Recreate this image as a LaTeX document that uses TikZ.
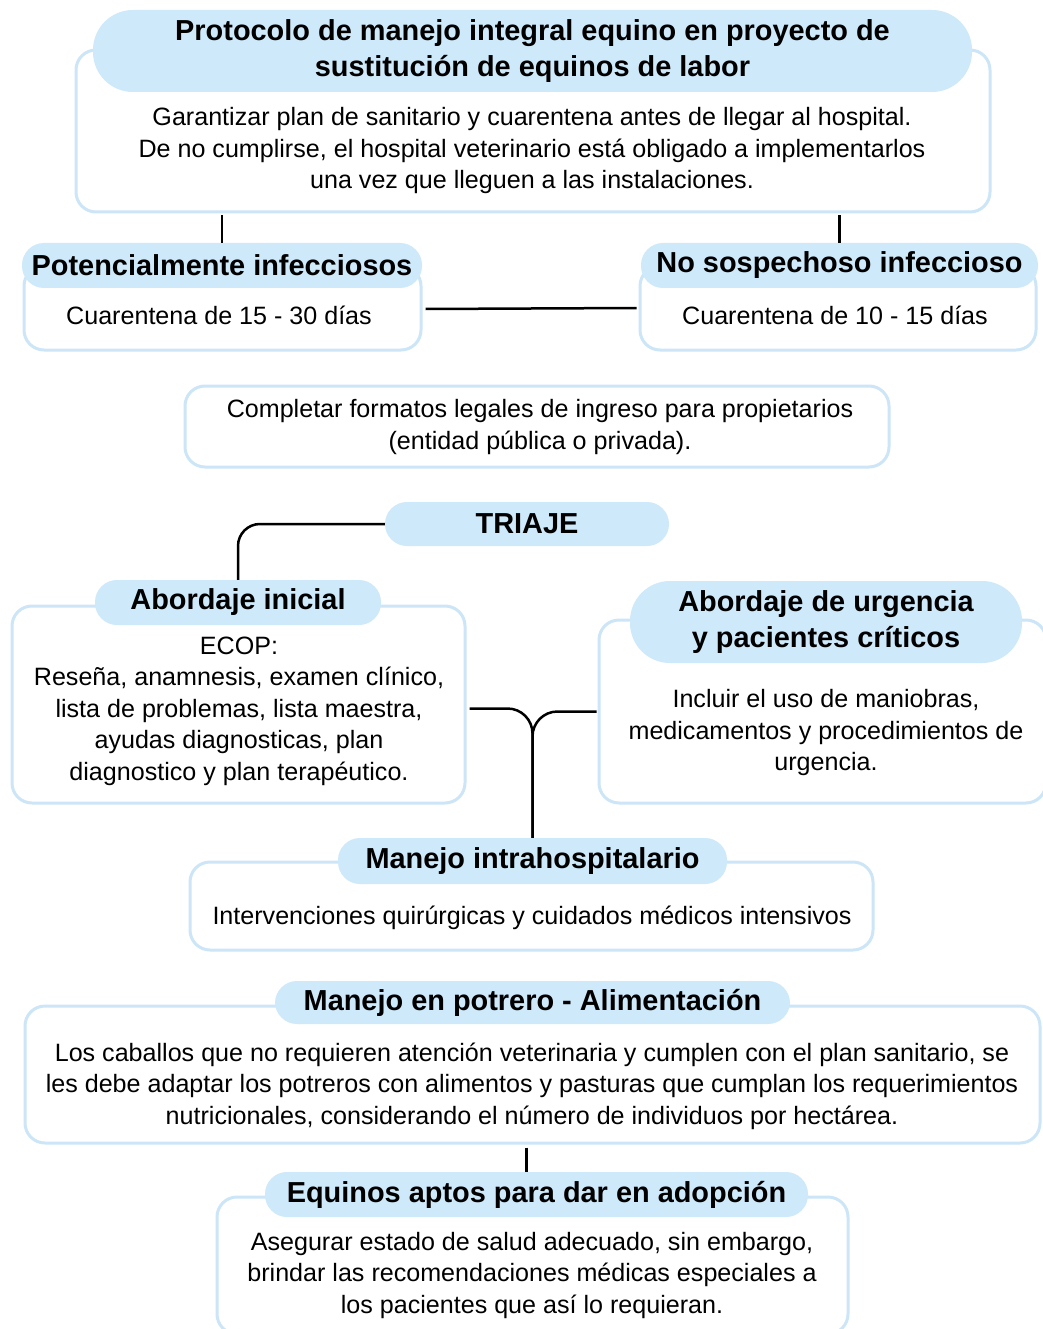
\documentclass[tikz,border=0pt]{standalone}
\usepackage{fontspec}
\setmainfont{Liberation Sans}
\definecolor{pillblue}{RGB}{205,233,250}
\definecolor{edgeblue}{RGB}{204,230,248}
\newcommand\bodyf{\fontsize{25.1}{31.5}\selectfont}
\newcommand\titlef{\fontsize{28.9}{36.5}\selectfont\bfseries}
\tikzset{
  outerbox/.style={draw=edgeblue, line width=3pt, fill=white, rounded corners=20pt, inner sep=0pt},
  pillbox/.style={fill=pillblue, draw=none, rounded corners=22pt, inner sep=0pt, font=\titlef, align=center},
  bodytext/.style={font=\bodyf, align=center, inner sep=0pt, yshift=-2pt},
  link/.style={draw=black, line width=2.5pt}
}
% name, x1, y1, x2, y2
\newcommand\mkbox[5]{\node[outerbox, minimum width={#4-#2}, minimum height={#5-#3}] (#1) at ({(#2+#4)/2},{(#3+#5)/2}) {};}
% options, name, x1, y1, x2, y2, text
\newcommand\mkpill[7][]{\node[pillbox, minimum width={#5-#3}, minimum height={#6-#4}, #1] (#2) at ({(#3+#5)/2},{(#4+#6)/2}) {#7};}
\begin{document}
\begin{tikzpicture}[x=1pt, y=-1pt]
\useasboundingbox (0,0) rectangle (1042,1329);
\fill[white] (0,0) rectangle (1042,1329);

% main
\mkbox{main}{76}{50}{990}{212}
\mkpill[rounded corners=40pt]{mainp}{93}{10}{972}{92}{Protocolo de manejo integral equino en proyecto de\\sustitución de equinos de labor}
\node[bodytext] (maint) at (532,149) {Garantizar plan de sanitario y cuarentena antes de llegar al hospital.\\De no cumplirse, el hospital veterinario está obligado a implementarlos\\una vez que lleguen a las instalaciones.};

% potencialmente
\mkbox{pi}{24}{266}{421}{350}
\mkpill{pip}{22}{243}{422}{288}{Potencialmente infecciosos}
\node[bodytext] (pit) at (219,313) {Cuarentena de 15 - 30 días};

% no sospechoso
\mkbox{ns}{640}{266}{1036}{350}
\mkpill{nsp}{641}{243}{1038}{288}{No sospechoso infeccioso}
\node[bodytext] (nst) at (835,313) {Cuarentena de 10 - 15 días};

% completar
\mkbox{cf}{185}{386}{889}{467}
\node[bodytext] (cft) at (540,425) {Completar formatos legales de ingreso para propietarios\\(entidad pública o privada).};

% triaje
\mkpill[yshift=1pt]{tri}{385}{503}{669}{547}{TRIAJE}

% abordaje inicial
\mkbox{ai}{12}{606}{465}{803}
\mkpill{aip}{95}{580}{381}{625}{Abordaje inicial}
\node[bodytext] (ait) at (239,709) {ECOP:\\Reseña, anamnesis, examen clínico,\\lista de problemas, lista maestra,\\ayudas diagnosticas, plan\\diagnostico y plan terapéutico.};

% abordaje urgencia
\mkbox{au}{599}{620}{1046}{803}
\mkpill[rounded corners=40pt]{aup}{630}{581}{1022}{663}{Abordaje de urgencia\\y pacientes críticos}
\node[bodytext] (aut) at (826,731) {Incluir el uso de maniobras,\\medicamentos y procedimientos de\\urgencia.};

% manejo intrahospitalario
\mkbox{mi}{190}{862}{873}{950}
\mkpill{mip}{338}{838}{727}{884}{Manejo intrahospitalario}
\node[bodytext] (mit) at (532,916) {Intervenciones quirúrgicas y cuidados médicos intensivos};

% manejo en potrero
\mkbox{mp}{25}{1006}{1040}{1143}
\mkpill{mpp}{275}{981}{790}{1024}{Manejo en potrero - Alimentación}
\node[bodytext] (mpt) at (532,1084) {Los caballos que no requieren atención veterinaria y cumplen con el plan sanitario, se\\les debe adaptar los potreros con alimentos y pasturas que cumplan los requerimientos\\nutricionales, considerando el número de individuos por hectárea.};

% equinos aptos
\mkbox{ea}{217}{1197}{848}{1334}
\mkpill{eap}{265}{1172}{808}{1217}{Equinos aptos para dar en adopción}
\node[bodytext] (eat) at (532,1273) {Asegurar estado de salud adecuado, sin embargo,\\brindar las recomendaciones médicas especiales a\\los pacientes que así lo requieran.};

% connectors
\draw[link] ([yshift=-2pt]main.south -| pip.north) -- (pip.north);
\draw[link] ([yshift=-2pt]main.south -| nsp.north) -- (nsp.north);
\draw[link] ([xshift=3pt,yshift=-1pt]pi.east) -- ([xshift=-2pt]ns.west);
\draw[link, rounded corners=22pt] (tri.west) -| (aip.north);
\draw[link, rounded corners=25pt] ([xshift=3pt,yshift=-4pt]ai.east) -| (mip.north);
\draw[link, rounded corners=25pt] ([xshift=-1pt]au.west) -| (mip.north);
\draw[link] ([xshift=-6pt,yshift=-3pt]mp.south) -- ([xshift=-6pt]mp.south |- eap.north);
\end{tikzpicture}
\end{document}
